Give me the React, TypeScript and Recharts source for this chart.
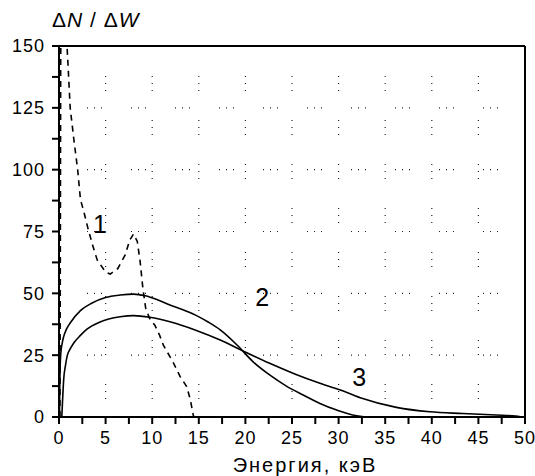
import { LineChart, Line, XAxis, YAxis, ReferenceLine, ReferenceDot } from 'recharts';

// curve 1 (dashed)
const curve1X = [0.1, 0.14, 0.18, 0.22, 0.6, 0.86, 1.0, 1.2, 1.6, 2.0, 2.3, 2.7, 3.1, 3.6, 4.1, 5.0, 5.5, 6.3, 7.1, 7.6, 8.0, 8.4, 8.7, 9.0, 9.3, 9.7, 10.3, 10.8, 11.2, 11.6, 12.3, 13.0, 13.7, 14.1, 14.4, 14.5];
const curve1Y = [0, 60, 140, 180, 190, 150, 140, 125, 112, 100, 88, 82.5, 76.4, 69.5, 63.5, 58.6, 57.8, 60, 65.5, 71.6, 74, 71, 63, 52, 44, 40, 37, 33, 29, 26.4, 21.7, 16.3, 12.3, 6.9, 0.8, 0];

// curve 2 (peak ~50)
const curve2X = [0.05, 0.08, 0.12, 0.2, 0.35, 0.5, 0.8, 1.2, 2.3, 3.5, 5, 6.56, 8, 9.25, 10.5, 11.9, 13.3, 14.6, 16, 17.3, 19.1, 20.8, 22.6, 24.4, 26.2, 28, 29.8, 31.5, 32.5, 33];
const curve2Y = [0, 12, 20, 26, 30, 32.5, 35.5, 38, 43, 46, 48.3, 49.3, 49.7, 49, 47.5, 45.3, 43.4, 41.3, 38.4, 35.2, 29.1, 22.4, 17, 12.5, 8.9, 5.5, 2.8, 0.8, 0.2, 0];

// curve 3 (peak ~41, long tail)
const curve3X = [0.3, 0.4, 0.5, 0.7, 0.9, 1.2, 1.6, 2.3, 3, 4.4, 6.56, 8, 9.77, 11.9, 14.6, 17.3, 19.9, 22.6, 25.3, 28, 30.7, 32.5, 36.2, 39.8, 43.3, 46.9, 49, 49.6];
const curve3Y = [0, 8, 15, 21, 25, 27.5, 30, 33, 35.5, 38.4, 40.5, 41, 40.3, 38.5, 35.2, 31.1, 26.4, 21.7, 17.4, 13.6, 10.2, 7.6, 3.9, 2.1, 1.4, 0.8, 0.4, 0];

const xTicks = [0, 2.5, 5, 7.5, 10, 12.5, 15, 17.5, 20, 22.5, 25, 27.5, 30, 32.5, 35, 37.5, 40, 42.5, 45, 47.5, 50];
const yTicks = [0, 12.5, 25, 37.5, 50, 62.5, 75, 87.5, 100, 112.5, 125, 137.5, 150];
const gridX = [5, 10, 15, 20, 25, 30, 35, 40, 45];
const gridY = [25, 50, 75, 100, 125];

const curveLabels = [
  { name: '1', x: 4.4, y: 78 },
  { name: '2', x: 21.8, y: 48.5 },
  { name: '3', x: 32.2, y: 16 },
];

const toPoints = (xs: number[], ys: number[]) => xs.map((x, i) => ({ x, y: ys[i] }));

const FONT = '"Liberation Sans", Arial, sans-serif';
const tickStyle = { fontSize: 18, fill: '#000', fontFamily: FONT, letterSpacing: 1 };

const XLabel = (props: any) => {
  const { viewBox } = props;
  return (
    <text x={viewBox.x + viewBox.width / 2 + 13} y={viewBox.y + 55} textAnchor="middle" fontSize={20} letterSpacing={2} fontFamily={FONT} fill="#000">
      Энергия, кэВ
    </text>
  );
};

const CurveLabel = (props: any) => {
  const { viewBox, value } = props;
  const cx = viewBox.x + (viewBox.width || 0) / 2;
  const cy = viewBox.y + (viewBox.height || 0) / 2;
  return (
    <text x={cx} y={cy + 9} textAnchor="middle" fontSize={25} fontFamily={FONT} fill="#000">
      {value}
    </text>
  );
};

export default function App() {
  return (
    <div style={{ position: 'absolute', left: 0, top: 0, width: 535, height: 476, background: '#fff' }}>
      <div
        style={{
          position: 'absolute',
          left: 52,
          top: 8,
          fontFamily: FONT,
          fontSize: 21,
          letterSpacing: 1,
          whiteSpace: 'pre',
        }}
      >
        Δ<i>N</i> / Δ<i>W</i>
      </div>
      <LineChart width={535} height={476} margin={{ top: 46, right: 10, bottom: 0, left: 0 }}>
        <XAxis
          type="number"
          dataKey="x"
          domain={[0, 50]}
          ticks={xTicks}
          interval={0}
          allowDataOverflow
          height={59}
          tickSize={7}
          tickMargin={7}
          tickLine={{ stroke: '#000', strokeWidth: 2 }}
          tickFormatter={(v: number) => (v % 5 === 0 ? String(v) : '')}
          tick={tickStyle}
          axisLine={{ stroke: '#000', strokeWidth: 2 }}
          label={<XLabel />}
        />
        <YAxis
          type="number"
          dataKey="y"
          domain={[0, 150]}
          ticks={yTicks}
          interval={0}
          allowDataOverflow
          width={59}
          tickSize={7}
          tickMargin={7}
          tickLine={{ stroke: '#000', strokeWidth: 2 }}
          tickFormatter={(v: number) => (v % 25 === 0 ? String(v) : '')}
          tick={tickStyle}
          axisLine={{ stroke: '#000', strokeWidth: 2 }}
        />
        {gridX.map((v) => (
          <ReferenceLine key={'gx' + v} x={v} stroke="#222" strokeWidth={1.2} strokeDasharray="1 6 1 6 1 29" strokeDashoffset={26} />
        ))}
        {gridY.map((v) => (
          <ReferenceLine key={'gy' + v} y={v} stroke="#222" strokeWidth={1.2} strokeDasharray="1 6 1 6 1 29" strokeDashoffset={16} />
        ))}
        <ReferenceLine y={150} stroke="#000" strokeWidth={2} />
        <ReferenceLine x={50} stroke="#000" strokeWidth={2} />
        <Line data={toPoints(curve1X, curve1Y)} dataKey="y" type="linear" stroke="#000" strokeWidth={1.6} strokeDasharray="6 5" dot={false} isAnimationActive={false} />
        <Line data={toPoints(curve2X, curve2Y)} dataKey="y" type="monotone" stroke="#000" strokeWidth={1.6} dot={false} isAnimationActive={false} />
        <Line data={toPoints(curve3X, curve3Y)} dataKey="y" type="monotone" stroke="#000" strokeWidth={1.6} dot={false} isAnimationActive={false} />
        {curveLabels.map((l) => (
          <ReferenceDot key={l.name} x={l.x} y={l.y} r={0} fill="none" stroke="none" label={<CurveLabel value={l.name} />} />
        ))}
      </LineChart>
    </div>
  );
}
